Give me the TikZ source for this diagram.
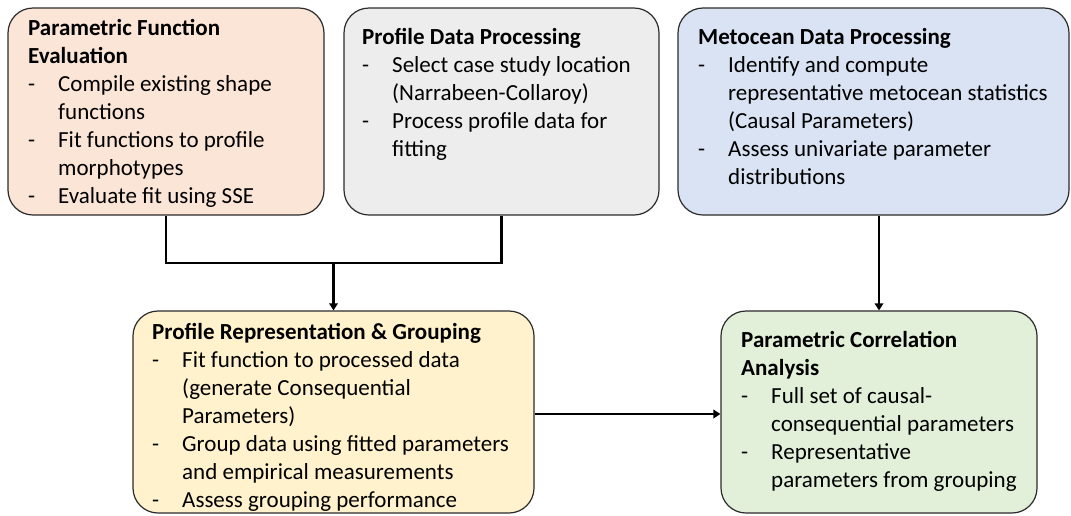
\documentclass[tikz,border=0pt]{standalone}
\usepackage{fontspec}
\setmainfont{Carlito}
\usetikzlibrary{arrows.meta}
\definecolor{cOrange}{HTML}{FBE5D6}
\definecolor{cGray}{HTML}{EDEDED}
\definecolor{cBlue}{HTML}{DAE3F3}
\definecolor{cYellow}{HTML}{FFF2CC}
\definecolor{cGreen}{HTML}{E2F0D9}
\definecolor{cBorder}{HTML}{2B2B2B}
\newcommand{\itm}[1]{\makebox[30pt][l]{-}#1}
\newcommand{\cnt}[1]{\hspace*{30pt}#1}
\newcommand{\ttl}[1]{\textbf{#1}}
\begin{document}
\begin{tikzpicture}[x=1pt,y=-1pt,
  box/.style={draw=cBorder, line width=1.2pt, rounded corners=25pt, inner sep=0pt},
  txt/.style={anchor=north west, inner sep=0pt, font=\fontsize{23}{28}\selectfont},
  conn/.style={draw=black, line width=2.7pt},
  arr/.style={conn, -{Triangle[length=7pt,width=8.5pt]}}]
\useasboundingbox (0,0) rectangle (1071,515);
% boxes
\node[box, fill=cOrange, minimum width=316pt, minimum height=207pt] (b1) at (166,111.5) {};
\node[box, fill=cGray, minimum width=315pt, minimum height=207pt] (b2) at (501.5,111.5) {};
\node[box, fill=cBlue, minimum width=391pt, minimum height=207pt] (b3) at (873.5,111.5) {};
\node[box, fill=cYellow, minimum width=401pt, minimum height=202pt] (b4) at (333.5,412) {};
\node[box, fill=cGreen, minimum width=316pt, minimum height=202pt] (b5) at (879,412) {};
% texts
\node[txt] (t1) at (28,15.4) {\begin{tabular}{@{}l@{}}
\ttl{Parametric Function}\\
\ttl{Evaluation}\\
\itm{Compile existing shape}\\
\cnt{functions}\\
\itm{Fit functions to profile}\\
\cnt{morphotypes}\\
\itm{Evaluate fit using SSE}
\end{tabular}};
\node[txt] (t2) at (362,24.4) {\begin{tabular}{@{}l@{}}
\ttl{Profile Data Processing}\\
\itm{Select case study location}\\
\cnt{(Narrabeen-Collaroy)}\\
\itm{Process profile data for}\\
\cnt{fitting}
\end{tabular}};
\node[txt] (t3) at (698,24.4) {\begin{tabular}{@{}l@{}}
\ttl{Metocean Data Processing}\\
\itm{Identify and compute}\\
\cnt{representative metocean statistics}\\
\cnt{(Causal Parameters)}\\
\itm{Assess univariate parameter}\\
\cnt{distributions}
\end{tabular}};
\node[txt] (t4) at (152,319.4) {\begin{tabular}{@{}l@{}}
\ttl{Profile Representation \& Grouping}\\
\itm{Fit function to processed data}\\
\cnt{(generate Consequential}\\
\cnt{Parameters)}\\
\itm{Group data using fitted parameters}\\
\cnt{and empirical measurements}\\
\itm{Assess grouping performance}
\end{tabular}};
\node[txt] (t5) at (741,327.4) {\begin{tabular}{@{}l@{}}
\ttl{Parametric Correlation}\\
\ttl{Analysis}\\
\itm{Full set of causal-}\\
\cnt{consequential parameters}\\
\itm{Representative}\\
\cnt{parameters from grouping}
\end{tabular}};
% connectors
\coordinate (j) at (333.5,263);
\draw[conn] (b1.south) |- (j) -| (b2.south);
\draw[arr] (j) -- (b4.north);
\draw[arr] (b5.north |- b3.south) -- (b5.north);
\draw[arr] ([yshift=-2pt]b4.east) -- ([yshift=-2pt]b4.east -| b5.west);
\end{tikzpicture}
\end{document}
